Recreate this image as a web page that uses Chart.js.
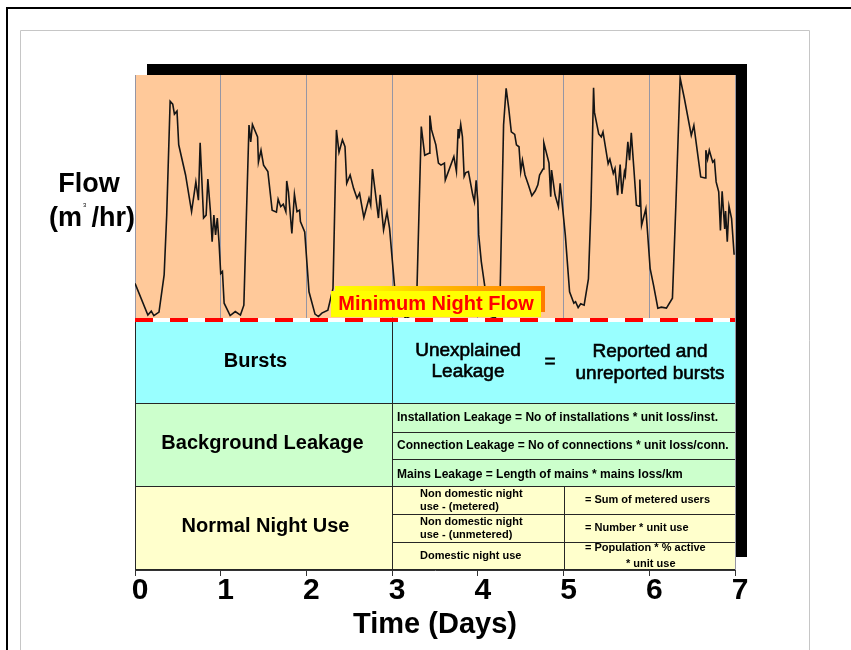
<!DOCTYPE html>
<html>
<head>
<meta charset="utf-8">
<script src="https://cdn.jsdelivr.net/npm/chart.js"></script>
<style>
    html, body { margin: 0; padding: 0; background: #fff; }
    #night-flow-wrap { position: relative; width: 851px; height: 650px; }
</style>
</head>
<body>
<div id="night-flow-wrap"><canvas id="night-flow-chart" width="851" height="650"></canvas></div>
<script>
// flow trace (time in days, flow in chart units 0-100)
var days = [0.00, 0.15, 0.19, 0.22, 0.28, 0.34, 0.37, 0.41, 0.44, 0.46, 0.49, 0.51, 0.59, 0.66, 0.71, 0.74, 0.76, 0.80, 0.83, 0.85,
    0.88, 0.90, 0.92, 0.94, 0.96, 0.98, 1.00, 1.02, 1.04, 1.11, 1.17, 1.23, 1.27, 1.33, 1.35, 1.37, 1.43, 1.44, 1.47, 1.50,
    1.55, 1.60, 1.65, 1.67, 1.70, 1.73, 1.76, 1.77, 1.79, 1.83, 1.86, 1.89, 1.92, 1.93, 1.98, 2.03, 2.10, 2.14, 2.18, 2.25,
    2.31, 2.35, 2.38, 2.42, 2.45, 2.47, 2.51, 2.55, 2.59, 2.62, 2.67, 2.73, 2.75, 2.77, 2.80, 2.84, 2.86, 2.90, 2.94, 2.97,
    3.03, 3.09, 3.14, 3.16, 3.22, 3.29, 3.34, 3.38, 3.43, 3.44, 3.46, 3.51, 3.54, 3.57, 3.61, 3.62, 3.72, 3.75, 3.77, 3.78,
    3.80, 3.82, 3.84, 3.86, 3.89, 3.94, 3.96, 3.98, 4.00, 4.01, 4.04, 4.09, 4.14, 4.20, 4.24, 4.26, 4.30, 4.33, 4.36, 4.39,
    4.43, 4.45, 4.48, 4.50, 4.52, 4.55, 4.59, 4.63, 4.67, 4.70, 4.72, 4.76, 4.77, 4.83, 4.85, 4.86, 4.90, 4.94, 4.96, 4.98,
    5.02, 5.07, 5.12, 5.14, 5.17, 5.20, 5.24, 5.29, 5.32, 5.35, 5.36, 5.41, 5.44, 5.46, 5.52, 5.54, 5.58, 5.60, 5.63, 5.66,
    5.68, 5.71, 5.72, 5.75, 5.77, 5.79, 5.82, 5.85, 5.88, 5.89, 5.91, 5.96, 6.01, 6.05, 6.10, 6.14, 6.20, 6.27, 6.31, 6.36,
    6.41, 6.49, 6.52, 6.60, 6.65, 6.66, 6.68, 6.70, 6.74, 6.76, 6.78, 6.81, 6.83, 6.85, 6.88, 6.89, 6.91, 6.93, 6.96, 6.99];
var flow = [57.9, 51.5, 52.3, 51.4, 52.1, 59.6, 71.7, 94.7, 94.1, 92.1, 92.7, 85.9, 79.8, 72.4, 78.4, 74.7, 86.3, 71.1, 71.7, 79.0,
    72.4, 66.3, 71.7, 67.7, 71.1, 66.3, 59.9, 60.3, 53.9, 51.4, 52.2, 51.5, 53.5, 89.9, 86.5, 90.0, 87.5, 82.4, 84.8, 81.8,
    80.5, 72.7, 72.3, 74.9, 73.4, 73.9, 72.4, 78.6, 76.4, 68.0, 75.9, 72.4, 72.7, 70.4, 68.3, 56.2, 51.7, 51.2, 51.9, 52.5,
    56.9, 88.9, 84.4, 86.9, 85.5, 78.1, 79.8, 77.1, 75.1, 76.1, 71.2, 75.1, 73.7, 81.0, 76.8, 71.1, 75.8, 68.7, 72.3, 69.0,
    56.9, 52.1, 51.3, 50.8, 51.4, 57.0, 89.6, 83.8, 84.2, 91.8, 88.9, 85.9, 82.2, 81.8, 82.2, 78.8, 83.5, 80.5, 89.1, 87.2,
    90.0, 87.5, 79.5, 80.3, 80.5, 75.8, 74.4, 78.7, 74.4, 67.7, 62.3, 56.2, 51.3, 50.9, 52.1, 56.2, 89.9, 97.3, 93.3, 88.5,
    88.0, 85.9, 85.5, 80.5, 82.8, 79.8, 77.8, 75.6, 76.6, 77.8, 79.8, 81.0, 86.3, 82.2, 75.4, 80.8, 75.8, 73.4, 78.1, 74.7,
    67.7, 56.2, 53.9, 54.2, 53.0, 53.8, 53.5, 58.8, 73.7, 97.4, 92.5, 88.1, 87.5, 88.5, 82.1, 83.0, 80.1, 81.1, 75.7, 81.9,
    76.0, 80.4, 79.7, 86.5, 82.8, 88.3, 81.1, 73.7, 73.5, 78.9, 69.6, 73.0, 60.9, 57.5, 52.9, 53.1, 52.9, 54.9, 73.7, 99.4,
    95.2, 87.8, 89.8, 79.4, 79.2, 84.8, 83.0, 84.8, 82.4, 82.8, 78.4, 76.4, 68.6, 76.5, 68.9, 72.5, 66.3, 73.5, 71.0, 63.7];

var dayTicks = [0, 1, 2, 3, 4, 5, 6, 7];
var minNightFlow = 50.5;
// tops of the bursts / background / normal use bands, then the floor
var bandLevels = [50.1, 33.7, 17.0, 0];
var backgroundRows = [27.9, 22.4];
var nightUseRows = [11.3, 5.7];
var splitDays = [3, 5];

var burstsLabel = 'Bursts';
var unexplainedLines = ['Unexplained', 'Leakage'];
var reportedLines = ['Reported and', 'unreported bursts'];
var backgroundLabel = 'Background Leakage';
var backgroundLines = [
    'Installation Leakage = No of installations * unit loss/inst.',
    'Connection Leakage = No of connections * unit loss/conn.',
    'Mains Leakage = Length of mains * mains loss/km'
];
var nightUseLabel = 'Normal Night Use';
var nightUseNames = [['Non domestic night', 'use - (metered)'], ['Non domestic night', 'use - (unmetered)'], ['Domestic night use']];
var nightUseFormulas = [['= Sum of metered users'], ['= Number * unit use'], ['= Population * % active', '* unit use']];

var FONT = "'Liberation Sans', Arial, sans-serif";

function drawText(ctx, s, x, y, size, weight, align, color, thicken) {
    ctx.font = weight + ' ' + size + 'px ' + FONT;
    ctx.textAlign = align;
    ctx.textBaseline = 'middle';
    ctx.fillStyle = color || '#000';
    ctx.fillText(s, x, y);
    if (thicken) {
        ctx.strokeStyle = color || '#000';
        ctx.lineWidth = thicken;
        ctx.strokeText(s, x, y);
    }
}

function hLine(ctx, x1, x2, y) {
    ctx.beginPath(); ctx.moveTo(x1, y + 0.5); ctx.lineTo(x2, y + 0.5); ctx.stroke();
}
function vLine(ctx, x, y1, y2) {
    ctx.beginPath(); ctx.moveTo(x + 0.5, y1); ctx.lineTo(x + 0.5, y2); ctx.stroke();
}

var diagramPlugin = {
    id: 'nightFlowDiagram',
    beforeDraw: function(chart) {
        var ctx = chart.ctx, a = chart.chartArea;
        ctx.save();
        ctx.fillStyle = '#fff';
        ctx.fillRect(0, 0, chart.width, chart.height);
        // slide frames
        ctx.strokeStyle = '#000';
        ctx.lineWidth = 2;
        ctx.beginPath(); ctx.moveTo(7, 652); ctx.lineTo(7, 8); ctx.lineTo(852, 8); ctx.stroke();
        ctx.strokeStyle = '#c6c6c6';
        ctx.lineWidth = 1;
        ctx.beginPath(); ctx.moveTo(20.5, 652); ctx.lineTo(20.5, 30.5); ctx.lineTo(809.5, 30.5); ctx.lineTo(809.5, 652); ctx.stroke();
        // drop shadow and plot background
        ctx.fillStyle = '#000';
        ctx.fillRect(a.left + 12, a.top - 11, a.right - a.left, a.bottom - a.top - 2);
        ctx.fillStyle = '#ffc99a';
        ctx.fillRect(a.left, a.top, a.right - a.left, a.bottom - a.top);
        ctx.restore();
    },
    beforeDatasetsDraw: function(chart) {
        var ctx = chart.ctx, a = chart.chartArea, xs = chart.scales.x, ys = chart.scales.y;
        var L = a.left, R = a.right;
        var tops = bandLevels.map(function(v) { return Math.round(ys.getPixelForValue(v)); });
        var xa = Math.round(xs.getPixelForValue(splitDays[0]));
        var xb = Math.round(xs.getPixelForValue(splitDays[1]));
        var colors = ['#99ffff', '#ccffcc', '#ffffcc'];
        ctx.save();
        for (var i = 0; i < 3; i++) {
            ctx.fillStyle = colors[i];
            ctx.fillRect(L, tops[i], R - L, tops[i + 1] - tops[i]);
        }
        ctx.strokeStyle = '#262626';
        ctx.lineWidth = 1;
        hLine(ctx, L, R, tops[1]);
        hLine(ctx, L, R, tops[2]);
        hLine(ctx, L, R, tops[3] - 1);
        vLine(ctx, L, tops[0], tops[3]);
        vLine(ctx, xa, tops[0], tops[3]);
        vLine(ctx, xb, tops[2], tops[3]);
        backgroundRows.forEach(function(v) { hLine(ctx, xa, R, Math.round(ys.getPixelForValue(v))); });
        nightUseRows.forEach(function(v) { hLine(ctx, xa, R, Math.round(ys.getPixelForValue(v))); });

        // bursts band
        var cy = (tops[0] + tops[1]) / 2 - 1;
        drawText(ctx, burstsLabel, (L + xa) / 2 - 8, cy, 20, 'bold', 'center');
        drawText(ctx, unexplainedLines[0], xa + 76, cy - 11, 19, 'normal', 'center', '#000', 0.6);
        drawText(ctx, unexplainedLines[1], xa + 76, cy + 10, 19, 'normal', 'center', '#000', 0.6);
        drawText(ctx, '=', xa + 158, cy, 19, 'normal', 'center', '#000', 0.6);
        drawText(ctx, reportedLines[0], xa + 258, cy - 10, 19, 'normal', 'center', '#000', 0.6);
        drawText(ctx, reportedLines[1], xa + 258, cy + 12, 19, 'normal', 'center', '#000', 0.6);

        // background leakage band
        drawText(ctx, backgroundLabel, (L + xa) / 2 - 1, (tops[1] + tops[2]) / 2 - 1, 20, 'bold', 'center');
        var bEdges = [tops[1]].concat(backgroundRows.map(function(v) { return Math.round(ys.getPixelForValue(v)); }), [tops[2]]);
        backgroundLines.forEach(function(s, k) {
            drawText(ctx, s, xa + 5, (bEdges[k] + bEdges[k + 1]) / 2 + (k === 2 ? 2 : 0), 12, 'bold', 'left');
        });

        // normal night use band
        drawText(ctx, nightUseLabel, (L + xa) / 2 + 2, (tops[2] + tops[3]) / 2 - 2, 20, 'bold', 'center');
        var nEdges = [tops[2]].concat(nightUseRows.map(function(v) { return Math.round(ys.getPixelForValue(v)); }), [tops[3]]);
        nightUseNames.forEach(function(lines, k) {
            var mid = (nEdges[k] + nEdges[k + 1]) / 2;
            lines.forEach(function(s, j) {
                var yy = lines.length === 1 ? mid : mid - 6.5 + j * 13;
                drawText(ctx, s, xa + 28, yy, 11, 'bold', 'left');
            });
        });
        nightUseFormulas.forEach(function(lines, k) {
            var mid = (nEdges[k] + nEdges[k + 1]) / 2;
            if (lines.length === 1) {
                drawText(ctx, lines[0], xb + 21, mid, 11, 'bold', 'left');
            } else {
                drawText(ctx, lines[0], xb + 21, mid - 8, 11, 'bold', 'left');
                drawText(ctx, lines[1], xb + 62, mid + 8, 11, 'bold', 'left');
            }
        });
        ctx.restore();
    },
    afterDatasetsDraw: function(chart) {
        var ctx = chart.ctx, a = chart.chartArea, xs = chart.scales.x, ys = chart.scales.y;
        var yMnf = ys.getPixelForValue(minNightFlow);
        ctx.save();
        // minimum night flow dashed line
        ctx.lineWidth = 4;
        ctx.strokeStyle = '#fff';
        ctx.beginPath(); ctx.moveTo(a.left, yMnf); ctx.lineTo(a.right, yMnf); ctx.stroke();
        ctx.strokeStyle = '#ff0000';
        ctx.setLineDash([18, 17]);
        ctx.beginPath(); ctx.moveTo(a.left, yMnf); ctx.lineTo(a.right, yMnf); ctx.stroke();
        ctx.setLineDash([]);

        // label box with orange shadow
        var cx = xs.getPixelForValue(3.5) + 1;
        var bx = cx - 105, by = yMnf - 29, bw = 210, bh = 26;
        var grad = ctx.createLinearGradient(bx + 4, 0, bx + bw + 4, 0);
        grad.addColorStop(0, '#ffff00');
        grad.addColorStop(0.2, '#ffee00');
        grad.addColorStop(0.45, '#ffc000');
        grad.addColorStop(0.75, '#ff9a00');
        grad.addColorStop(1, '#ff7a00');
        ctx.fillStyle = grad;
        ctx.fillRect(bx + 4, by - 5, bw, bh);
        ctx.fillStyle = '#ffff00';
        ctx.fillRect(bx, by, bw, bh);
        drawText(ctx, 'Minimum Night Flow', cx, by + bh / 2, 20, 'bold', 'center', '#ff0000');

        ctx.restore();
    },
    afterDraw: function(chart) {
        var ctx = chart.ctx, a = chart.chartArea;
        var cx = a.left - 46;
        ctx.save();
        drawText(ctx, 'Flow', cx, 185, 27, 'bold', 'center');
        // (m³/hr) with a tiny superscript
        ctx.font = 'bold 27px ' + FONT;
        var w1 = ctx.measureText('(m').width, w2 = ctx.measureText(' /hr)').width;
        var sx = cx - (w1 + w2) / 2 + 2;
        drawText(ctx, '(m', sx, 219, 27, 'bold', 'left');
        drawText(ctx, '3', sx + w1 + 1, 205, 6, 'normal', 'left');
        drawText(ctx, ' /hr)', sx + w1 + 2, 219, 27, 'bold', 'left');
        ctx.restore();
    }
};

var ctx = document.getElementById('night-flow-chart').getContext('2d');
var nightFlowChart = new Chart(ctx, {
    type: 'line',
    data: {
        datasets: [{
            label: 'Flow',
            data: days.map(function(d, i) { return { x: d, y: flow[i] }; }),
            borderColor: '#151515',
            borderWidth: 1.6,
            pointRadius: 0,
            tension: 0,
            fill: false
        }]
    },
    options: {
        responsive: false,
        animation: false,
        layout: { padding: { left: 135, top: 75, right: 116, bottom: 0 } },
        scales: {
            x: {
                type: 'linear',
                min: 0,
                max: 7,
                afterBuildTicks: function(scale) {
                    scale.ticks = dayTicks.map(function(v) { return { value: v }; });
                },
                afterFit: function(scale) { scale.height = 80; },
                ticks: {
                    color: '#000',
                    padding: 0,
                    labelOffset: 5,
                    font: { family: FONT, size: 30, weight: 'bold', lineHeight: 1 }
                },
                grid: { color: '#9696a4', lineWidth: 1, tickLength: 6, tickColor: '#333' },
                border: { color: '#333' },
                title: {
                    display: true,
                    text: 'Time (Days)',
                    color: '#000',
                    padding: { top: 0, bottom: 8 },
                    font: { family: FONT, size: 29, weight: 'bold' }
                }
            },
            y: { display: false, min: 0, max: 100 }
        },
        plugins: {
            legend: { display: false },
            tooltip: { enabled: false }
        }
    },
    plugins: [diagramPlugin]
});
</script>
</body>
</html>
